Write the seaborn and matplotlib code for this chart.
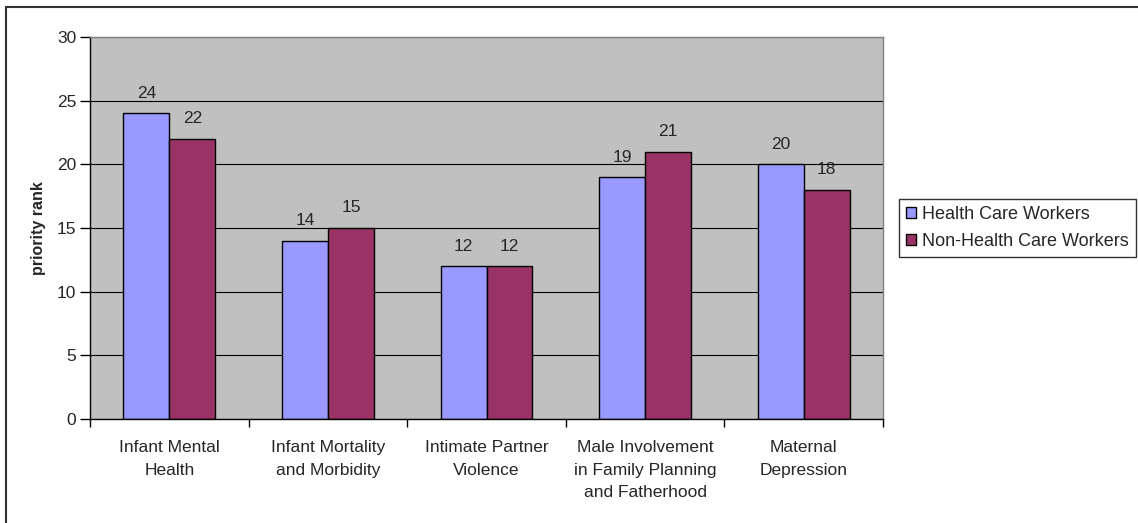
import numpy as np
import pandas as pd
import matplotlib
matplotlib.use("Agg")
import matplotlib.pyplot as plt
import seaborn as sns
from matplotlib.patches import Rectangle
from matplotlib.lines import Line2D

# datos
categories = ["Infant Mental\nHealth", "Infant Mortality\nand Morbidity", "Intimate Partner\nViolence",
              "Male Involvement\nin Family Planning\nand Fatherhood", "Maternal\nDepression"]
health_workers = [24, 14, 12, 19, 20]
non_health_workers = [22, 15, 12, 21, 18]
series_names = ["Health Care Workers", "Non-Health Care Workers"]
colors = ["#9999FF", "#993366"]

df = pd.DataFrame({
    "category": categories * 2,
    "value": health_workers + non_health_workers,
    "group": [series_names[0]] * 5 + [series_names[1]] * 5,
})

sns.set_theme(style="white")
plt.rcParams['font.family'] = ['Liberation Sans', 'DejaVu Sans']
fs = 12.5

fig = plt.figure(figsize=(11.38, 5.23), dpi=100)
ax = fig.add_axes([90 / 1138, 1 - 419 / 523, (883 - 90) / 1138, (419 - 37) / 523])
ax.set_facecolor("#C0C0C0")

sns.barplot(data=df, x="category", y="value", hue="group", palette=colors,
            width=0.58, edgecolor="black", linewidth=1, ax=ax, legend=False, saturation=1)

for c in ax.containers:
    ax.bar_label(c, fmt="%d", padding=9, fontsize=fs)

ax.set_ylim(0, 30)
ax.set_yticks(range(0, 31, 5))
ax.set_xlim(-0.5, 4.5)
ax.yaxis.grid(True, color="black", linewidth=0.8)
ax.set_axisbelow(True)
ax.set_xlabel("")
ax.set_ylabel("priority rank", fontsize=11.5, fontweight="bold", labelpad=8)

ax.set_xticks(np.arange(-0.5, 5, 1), minor=False)
ax.set_xticklabels([])
ax.set_xticks(range(5), minor=True)
ax.set_xticklabels(categories, minor=True, fontsize=fs, linespacing=1.65)
ax.tick_params(axis="x", which="minor", length=0, pad=15)
ax.tick_params(axis="x", which="major", length=6, width=1, color="black", direction="out")
ax.tick_params(axis="y", length=7, width=1, color="black", direction="out", labelsize=fs, pad=3)
ax.tick_params(bottom=True, left=True)

for side in ["top", "right"]:
    ax.spines[side].set_color("#808080")
    ax.spines[side].set_linewidth(1)
for side in ["left", "bottom"]:
    ax.spines[side].set_color("black")
    ax.spines[side].set_linewidth(1)

# leyenda
handles = [Rectangle((0, 0), 1, 1, facecolor=col, edgecolor="black") for col in colors]
leg = fig.legend(handles, series_names, loc="upper left",
                 bbox_to_anchor=(899 / 1138, 1 - 199 / 523), fontsize=13,
                 frameon=True, fancybox=False, borderpad=0.4, handlelength=0.55,
                 handleheight=0.55, handletextpad=0.35, labelspacing=0.55, borderaxespad=0)
leg.get_frame().set_edgecolor("black")
leg.get_frame().set_linewidth(1)

# borde exterior (solo arriba e izquierda)
fig.lines.append(Line2D([5.5 / 1138, 5.5 / 1138], [0, 1 - 7 / 523], transform=fig.transFigure,
                        color="#303030", linewidth=1.5))
fig.lines.append(Line2D([5.5 / 1138, 1], [1 - 7 / 523, 1 - 7 / 523], transform=fig.transFigure,
                        color="#303030", linewidth=1.5))

fig.savefig("out.png", dpi=100)
